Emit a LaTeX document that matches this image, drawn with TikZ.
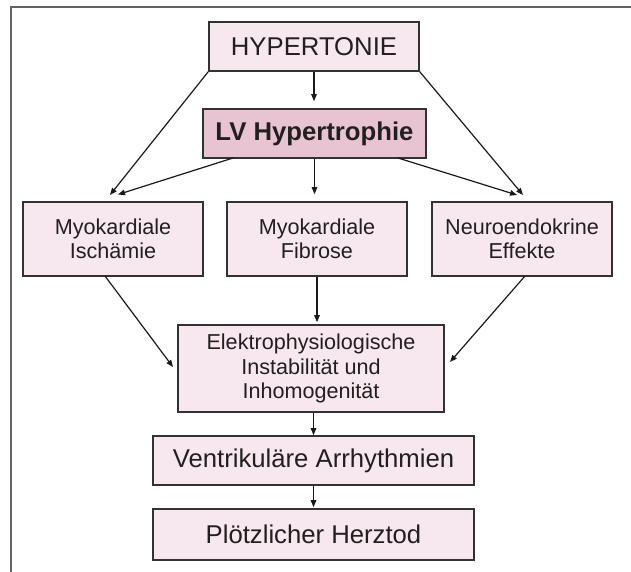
\documentclass[tikz,border=0pt]{standalone}
\usepackage{fontspec}
\setmainfont{Liberation Sans}
\usetikzlibrary{arrows.meta}
\definecolor{boxfill}{RGB}{246,232,238}
\definecolor{lvfill}{RGB}{232,196,210}
\definecolor{boxline}{RGB}{50,50,50}
\definecolor{txt}{RGB}{35,31,32}
\definecolor{frameline}{RGB}{100,100,100}
\tikzset{
  box/.style={draw=boxline, line width=1.6pt, fill=boxfill, inner sep=0pt, align=center, text=txt},
  bigtext/.style={font=\fontsize{25.7}{30}\selectfont},
  smalltext/.style={font=\fontsize{21.6}{24.5}\selectfont},
  arr/.style={-{Triangle[length=7pt,width=5.5pt]}, line width=1.2pt, draw=black!90},
}
\begin{document}
\begin{tikzpicture}[x=1pt,y=-1pt]
\useasboundingbox (0,0) rectangle (631,572);
% frame
\draw[frameline, line width=1.5pt] (10,7) -- (631,7);
\draw[frameline, line width=1.5pt] (11,7) -- (11,572);
% nodes
\node[box, bigtext, minimum width=210pt, minimum height=49pt] (hyp) at (314,46.5) {HYPERTONIE};
\node[box, bigtext, fill=lvfill, minimum width=223pt, minimum height=49pt, font=\fontsize{25.7}{30}\selectfont\bfseries] (lv) at (314.5,133.5) {LV Hypertrophie};
\node[box, smalltext, minimum width=180pt, minimum height=74pt] (isch) at (113,239) {Myokardiale\\Ischämie};
\node[box, smalltext, minimum width=180pt, minimum height=74pt] (fib) at (317,239) {Myokardiale\\Fibrose};
\node[box, smalltext, minimum width=180pt, minimum height=74pt] (neuro) at (522,239) {Neuroendokrine\\Effekte};
\node[box, smalltext, minimum width=266pt, minimum height=87pt] (elek) at (311,368.5) {Elektrophysiologische\\Instabilität und\\Inhomogenität};
\node[box, bigtext, minimum width=321pt, minimum height=49pt] (vent) at (313.5,460.5) {Ventrikuläre Arrhythmien};
\node[box, bigtext, minimum width=321pt, minimum height=51pt] (plz) at (313.5,534.5) {Plötzlicher Herztod};
% arrow end points
\coordinate (tL1) at (110,195);
\coordinate (tL2) at (118,194.5);
\coordinate (tR1) at (517,195);
\coordinate (tR2) at (523,195);
\coordinate (lvL) at (233,158);
\coordinate (lvR) at (398,158);
\coordinate (eL) at (173,367);
\coordinate (eR) at (450,362);
\coordinate (iS) at (105,276);
\coordinate (nS) at (525,276);
% connectors
\draw[arr, shorten >=7pt] (hyp.south) -- (hyp.south |- lv.north);
\draw[arr] (hyp.south west) -- (tL1);
\draw[arr] (hyp.south east) -- (tR2);
\draw[arr] (lvL) -- (tL2);
\draw[arr] (lvR) -- (tR1);
\draw[arr, shorten >=7pt] (lv.south) -- (lv.south |- fib.north);
\draw[arr, shorten >=2pt] (fib.south) -- (fib.south |- elek.north);
\draw[arr] (iS) -- (eL);
\draw[arr] (nS) -- (eR);
\draw[arr] (elek.south -| vent.north) -- (vent.north);
\draw[arr, shorten >=1pt] (vent.south) -- (plz.north);
\end{tikzpicture}
\end{document}
